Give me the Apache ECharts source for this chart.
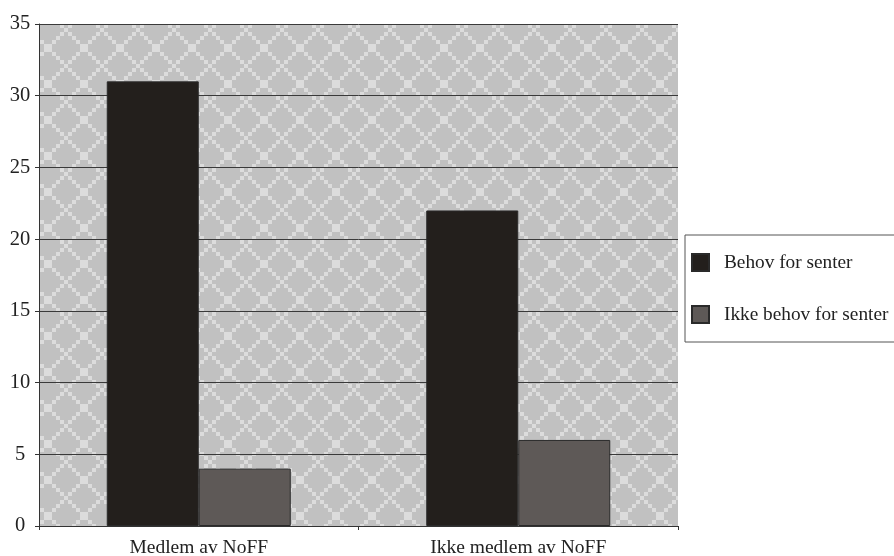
<!DOCTYPE html>
<html>
<head>
<meta charset="utf-8">
<script src="https://cdn.jsdelivr.net/npm/echarts@6/dist/echarts.min.js"></script>
<style>
html,body{margin:0;padding:0;background:#fff;}
#chart{width:894px;height:556px;}
</style>
</head>
<body>
<div id="chart"></div>
<script>
const categories = ['Medlem av NoFF', 'Ikke medlem av NoFF'];
const seriesNames = ['Behov for senter', 'Ikke behov for senter'];
const behovValues = [31, 22];
const ikkeBehovValues = [4, 6];
const yTicks = { min: 0, max: 35, interval: 5 };

// background lattice pattern (blocky diamond lattice)
function makePattern() {
  const B = 4, N = 9, S = B * N;
  const c = document.createElement('canvas');
  c.width = S; c.height = S;
  const ctx = c.getContext('2d');
  ctx.fillStyle = '#c1c1c1';
  ctx.fillRect(0, 0, S, S);
  ctx.fillStyle = '#dcdcdc';
  for (let bj = 0; bj < N; bj++) {
    for (let bi = 0; bi < N; bi++) {
      const a = ((bj - bi) % N + N) % N === 0;
      const b = ((bj + bi - 5) % N + N) % N === 0;
      if (a || b) ctx.fillRect(bi * B, bj * B, B, B);
    }
  }
  return c;
}

const chart = echarts.init(document.getElementById('chart'), null, { renderer: 'canvas' });
const font = '"Liberation Serif", "Times New Roman", serif';

chart.setOption({
  animation: false,
  backgroundColor: '#ffffff',
  grid: {
    left: 39, right: 216, top: 24, bottom: 30,
    containLabel: false,
    outerBoundsMode: 'none',
    show: true,
    backgroundColor: { image: makePattern(), repeat: 'repeat' },
    borderWidth: 0
  },
  legend: {
    orient: 'vertical',
    left: 685, top: 235,
    backgroundColor: '#ffffff',
    borderColor: '#555555',
    borderWidth: 1,
    borderRadius: 0,
    padding: [18, 30, 18, 6],
    itemWidth: 17, itemHeight: 17, itemGap: 33,
    icon: 'rect',
    textStyle: { fontFamily: font, fontSize: 19.3, lineHeight: 17, color: '#222', padding: [0, 0, 0, 10] },
    data: seriesNames
  },
  xAxis: {
    type: 'category',
    data: categories,
    axisLine: { lineStyle: { color: '#333', width: 1 } },
    axisTick: { show: true, length: 4, lineStyle: { color: '#333' } },
    axisLabel: { fontFamily: font, fontSize: 19.5, color: '#222', margin: 12 },
    splitLine: { show: false }
  },
  yAxis: {
    type: 'value',
    min: yTicks.min, max: yTicks.max, interval: yTicks.interval,
    axisLine: { show: true, lineStyle: { color: '#333', width: 1 } },
    axisTick: { show: true, length: 4, lineStyle: { color: '#333' } },
    axisLabel: { fontFamily: font, fontSize: 20.5, color: '#222', margin: 19, align: 'center' },
    splitLine: { show: true, lineStyle: { color: '#3a3a3a', width: 1 } }
  },
  series: [
    {
      name: seriesNames[0], type: 'bar', data: behovValues,
      barWidth: 92, barGap: '0%',
      itemStyle: { color: '#231f1c', borderColor: '#2a2a2a', borderWidth: 1 }
    },
    {
      name: seriesNames[1], type: 'bar', data: ikkeBehovValues,
      barWidth: 92, barGap: '0%',
      itemStyle: { color: '#5e5957', borderColor: '#2a2a2a', borderWidth: 1 }
    }
  ]
});
</script>
</body>
</html>
